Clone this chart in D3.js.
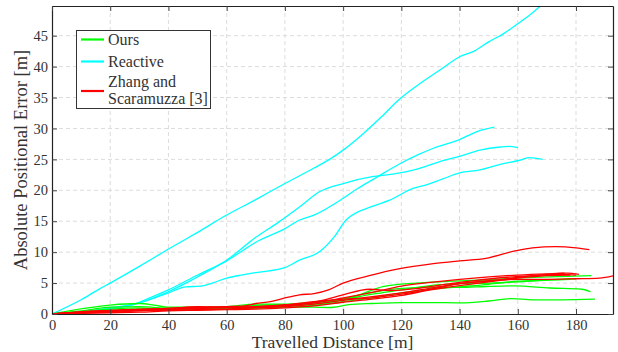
<!DOCTYPE html>
<html>
<head>
<meta charset="utf-8">
<script src="https://cdn.jsdelivr.net/npm/d3@7"></script>
<style>
    body { margin: 0; background: #fff; }
    svg { display: block; }
    text { font-family: "Liberation Serif", "DejaVu Serif", serif; fill: #333; }
</style>
</head>
<body>
<div id="scene"></div>
<script>
// axis ticks
const xTicks = [0, 20, 40, 60, 80, 100, 120, 140, 160, 180];
const yTicks = [0, 5, 10, 15, 20, 25, 30, 35, 40, 45];

// Reactive runs (cyan)
const reactive1 = [[0,0],[10,2.3],[16.5,4.1],[20,5.0],[30,7.7],[40,10.5],[50,13.2],[60,16.0],[70,18.5],[80,21.1],[90,23.6],[96,25.2],[100,26.5],[107,29.2],[113,31.8],[119.5,34.8],[125,36.8],[134,39.7],[140,41.6],[145,42.5],[150,44.0],[155,45.3],[159.6,46.8],[164,48.3],[168,49.9]];
const reactive2 = [[0,0],[10,0.2],[17,0.7],[20,0.9],[28,1.5],[30,1.9],[37,3.3],[40,3.9],[50,6.3],[60,8.6],[70,11.6],[80,13.8],[85,15.2],[90,16.0],[99,18.4],[105,20.3],[111.5,22.1],[119.5,24.3],[126,25.8],[131,26.8],[140,28.2],[146,29.5],[152,30.2]];
const reactive3 = [[0,0],[10,0.2],[17,0.8],[20,1.0],[28,1.6],[30,1.8],[37,3.0],[40,3.6],[50,6.0],[60,8.7],[70,12.4],[78,14.9],[85,17.3],[92,19.8],[100,21.1],[110,22.2],[117,22.6],[126,23.5],[133,24.6],[140,25.5],[147,26.5],[154,27.0],[157,27.1],[160,26.9]];
const reactive4 = [[0,0],[10,0.2],[20,0.8],[30,1.8],[40,3.4],[46,4.4],[51,4.5],[55,5.0],[60,5.8],[65,6.3],[70,6.7],[80,7.5],[85,8.7],[92,10.1],[97,12.5],[101,15.2],[110,17.4],[116,18.4],[124,20.3],[128,20.8],[134,21.8],[140,22.8],[147,23.3],[154,24.2],[161,24.9],[164,25.3],[168.5,25.0]];

// Ours (green)
const ours1 = [[0,0],[10,0.5],[20,1.1],[30,1.2],[40,0.9],[50,0.8],[60,0.9],[70,1.0],[80,1.1],[90,1.1],[95,1.05],[102,1.5],[110,1.7],[120,1.85],[130,1.85],[140,1.8],[150,2.1],[158,2.5],[165,2.3],[175,2.3],[186.5,2.4]];
const ours2 = [[0,0],[11,0.9],[20,1.45],[30,1.7],[35,1.45],[40,1.1],[50,1.1],[60,1.2],[70,1.6],[80,1.6],[85,1.7],[98,2.3],[109,3.4],[119,4.1],[131,4.35],[140,4.3],[149,4.45],[159,4.55],[171,4.2],[182,4.0],[185,3.6]];
const ours3 = [[0,0],[10,0.4],[20,0.8],[30,1.0],[40,0.7],[50,0.9],[60,1.1],[70,1.4],[80,1.5],[85,1.5],[102,2.55],[114,4.45],[125,5.0],[137,5.3],[148,5.5],[159,5.8],[171,6.0],[185.3,6.2]];
const ours4 = [[0,0],[10,0.3],[20,0.6],[30,0.8],[40,0.9],[50,1.0],[60,1.0],[70,1.2],[80,1.3],[90,1.6],[100,2.3],[110,3.2],[120,3.9],[130,4.6],[140,4.9],[150,5.0],[160,5.2],[170,5.5],[178,5.6]];
const ours5 = [[0,0],[10,0.2],[20,0.5],[30,0.6],[40,0.7],[50,0.8],[60,0.8],[70,1.0],[80,1.1],[90,1.4],[100,2.0],[110,2.6],[120,3.4],[130,4.0],[140,4.4],[150,4.8],[160,5.3],[170,5.5],[180,5.7]];

// Zhang and Scaramuzza (red)
const zhang1 = [[0,0],[10,0.2],[20,0.4],[30,0.6],[40,0.8],[50,1.0],[60,1.2],[66,1.3],[70,1.7],[75,2.0],[80,2.6],[85,3.1],[90,3.3],[95,3.9],[100,5.0],[109,6.2],[119,7.3],[131,8.15],[140,8.6],[149,9.0],[159,10.2],[165,10.7],[173,10.9],[180,10.7],[184.6,10.4]];
const zhang2 = [[0,0],[10,0.3],[20,0.5],[30,0.7],[40,0.9],[50,1.1],[60,1.1],[70,1.1],[80,1.4],[85,1.6],[90,1.8],[100,2.6],[110,3.5],[120,4.5],[130,5.1],[140,5.6],[150,6.0],[160,6.3],[170,6.5],[177,6.6],[181,6.4]];
const zhang3 = [[0,0],[10,0.2],[20,0.3],[30,0.5],[40,0.6],[50,0.7],[60,0.8],[70,1.0],[80,1.2],[90,1.6],[100,2.2],[110,2.8],[120,3.4],[130,4.2],[140,4.9],[150,5.4],[160,5.6],[170,5.6],[180,5.7],[188,5.8],[193,6.2]];
const zhang4 = [[0,0],[10,0.4],[20,0.6],[30,0.8],[40,0.9],[50,1.2],[60,1.1],[70,1.1],[80,1.3],[90,1.9],[100,3.1],[109,4.0],[116,3.8],[125,4.1],[135,4.8],[145,5.4],[155,5.9],[165,6.2],[175,6.4],[180,6.3]];
const zhang5 = [[0,0],[10,0.1],[20,0.2],[30,0.3],[40,0.5],[50,0.6],[60,0.7],[70,0.8],[80,1.0],[90,1.3],[100,1.9],[110,2.4],[120,3.0],[130,3.9],[140,4.6],[150,5.2],[160,5.8],[170,6.2],[178,6.3]];
const zhang6 = [[0,0],[10,0.3],[20,0.5],[30,0.6],[40,0.7],[50,0.9],[60,1.0],[70,1.2],[80,1.5],[90,2.0],[100,2.4],[110,2.6],[120,3.2],[130,4.0],[140,4.9],[150,5.3],[160,5.9],[170,6.4],[176,6.6]];

const groups = [
    { name: "Reactive", color: "#00ffff", runs: [reactive1, reactive2, reactive3, reactive4] },
    { name: "Ours", color: "#00ff00", runs: [ours1, ours2, ours3, ours4, ours5] },
    { name: "Zhang", color: "#ff0000", runs: [zhang1, zhang2, zhang3, zhang4, zhang5, zhang6] }
];

const width = 618, height = 352;
const margin = { top: 6, right: 5, bottom: 38, left: 52 };
const innerW = width - margin.left - margin.right;
const innerH = height - margin.top - margin.bottom;

const svg = d3.select("#scene").append("svg")
    .attr("width", width)
    .attr("height", height);

const x = d3.scaleLinear().domain([0, 192.7]).range([0, innerW]);
const y = d3.scaleLinear().domain([0, 49.8]).range([innerH, 0]);

const g = svg.append("g").attr("transform", `translate(${margin.left},${margin.top})`);

svg.append("defs").append("clipPath").attr("id", "plotClip")
    .append("rect").attr("width", innerW).attr("height", innerH);

// grid
g.append("g").selectAll("line").data(xTicks.filter(d => d > 0)).enter().append("line")
    .attr("x1", d => x(d)).attr("x2", d => x(d))
    .attr("y1", 0).attr("y2", innerH)
    .attr("stroke", "#dcdcdc").attr("stroke-dasharray", "4,3");
g.append("g").selectAll("line").data(yTicks.filter(d => d > 0)).enter().append("line")
    .attr("x1", 0).attr("x2", innerW)
    .attr("y1", d => y(d)).attr("y2", d => y(d))
    .attr("stroke", "#dcdcdc").attr("stroke-dasharray", "4,3");

// lines
const line = d3.line().x(d => x(d[0])).y(d => y(d[1])).curve(d3.curveMonotoneX);
const plot = g.append("g").attr("clip-path", "url(#plotClip)");
groups.forEach(grp => {
    plot.append("g").selectAll("path").data(grp.runs).enter().append("path")
        .attr("d", line)
        .attr("fill", "none")
        .attr("stroke", grp.color)
        .attr("stroke-width", 1.3);
});

// axes (ticks inward, box)
const axB = g.append("g").attr("transform", `translate(0,${innerH})`)
    .call(d3.axisBottom(x).tickValues(xTicks).tickSizeInner(-5).tickSizeOuter(0).tickPadding(6));
const axL = g.append("g")
    .call(d3.axisLeft(y).tickValues(yTicks).tickSizeInner(-5).tickSizeOuter(0).tickPadding(4));
const axT = g.append("g")
    .call(d3.axisTop(x).tickValues(xTicks).tickSizeInner(-5).tickSizeOuter(0).tickFormat(""));
const axR = g.append("g").attr("transform", `translate(${innerW},0)`)
    .call(d3.axisRight(y).tickValues(yTicks).tickSizeInner(-5).tickSizeOuter(0).tickFormat(""));

[axB, axL, axT, axR].forEach(ax => {
    ax.select(".domain").attr("stroke", "#222").attr("stroke-width", 1.2);
    ax.selectAll(".tick line").attr("stroke", "#444");
    ax.selectAll("text").style("font-family", '"Liberation Serif", serif').style("font-size", "14.5px").attr("fill", "#333");
});

// axis labels
svg.append("text")
    .attr("x", margin.left + innerW / 2).attr("y", 348)
    .attr("text-anchor", "middle").style("font-size", "17.5px")
    .text("Travelled Distance [m]");
svg.append("text")
    .attr("transform", `translate(27,160) rotate(-90)`)
    .attr("text-anchor", "middle").style("font-size", "18.5px")
    .text("Absolute Positional Error [m]");

// legend
const legend = svg.append("g");
legend.append("rect")
    .attr("x", 76.5).attr("y", 30.5).attr("width", 134).attr("height", 78)
    .attr("fill", "#fff").attr("stroke", "#333").attr("stroke-width", 1);
const legItems = [
    { color: "#00ff00", lines: ["Ours"], sy: 39.5, ty: [45] },
    { color: "#00ffff", lines: ["Reactive"], sy: 61.5, ty: [67] },
    { color: "#ff0000", lines: ["Zhang and", "Scaramuzza [3]"], sy: 91, ty: [86.5, 104] }
];
legItems.forEach(item => {
    legend.append("line")
        .attr("x1", 81).attr("x2", 104)
        .attr("y1", item.sy).attr("y2", item.sy)
        .attr("stroke", item.color).attr("stroke-width", 2.2);
    item.lines.forEach((t, i) => {
        legend.append("text")
            .attr("x", 108).attr("y", item.ty[i])
            .style("font-size", "16px")
            .text(t);
    });
});
</script>
</body>
</html>
